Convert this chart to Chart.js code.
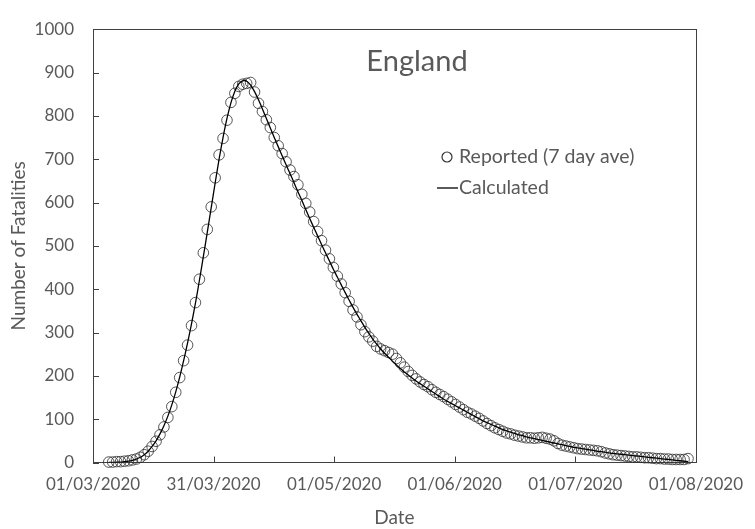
<!DOCTYPE html>
<html><head><meta charset="utf-8">
<script src="https://cdn.jsdelivr.net/npm/chart.js@4.4.1/dist/chart.umd.min.js"></script>
<style>html,body{margin:0;padding:0;background:#fff;}#wrap{width:755px;height:529px;position:relative;}</style>
</head><body><div id="wrap"><canvas id="c" width="755" height="529"></canvas></div>
<script>
// ---- data ----
const axisStart = '2020-03-01';
const axisEnd = '2020-08-01';
const xTickLabels = ['01/03/2020','31/03/2020','01/05/2020','01/06/2020','01/07/2020','01/08/2020'];
const yMin = 0, yMax = 1000, yStep = 100;
const chartTitle = 'England';
const seriesNames = ['Reported (7 day ave)', 'Calculated'];
const xAxisTitle = 'Date';
const yAxisTitle = 'Number of Fatalities';

const reportedStart = '2020-03-05';
const reported = [
  1,1,2,2,3,4,6,8,12,18,26,37,49,64,82,104,129,162,196,235,
  271,316,369,423,484,538,590,657,710,748,790,831,852,868,873,875,
  877,855,829,810,791,773,750,731,713,694,675,660,641,619,
  598,578,556,533,512,490,470,450,430,412,392,372,352,336,318,302,
  290,280,268,262,258,254,250,240,230,220,210,201,193,186,180,175,
  168,162,157,152,146,140,134,128,122,116,112,107,102,96,90,85,
  80,76,72,68,66,63,61,59,57,57,56,57,58,56,54,50,44,40,38,36,
  34,32,31,30,29,28,27,25,22,20,18,17,16,15,14,13,13,12,11,11,
  10,9,9,8,8,7,7,7,7,9
];

const calculatedStart = '2020-03-05';
const calculated = [
  0,0,1,1,2,3,5,8,12,18,26,37,50,66,85,107,133,163,197,235,
  276,320,368,420,475,531,588,645,700,750,794,830,857,874,881,880,
  871,856,837,816,794,772,750,729,708,687,667,646,625,605,
  584,563,543,523,503,484,465,446,428,410,392,375,358,342,327,312,
  298,285,273,262,252,243,234,225,217,209,202,195,188,182,176,170,
  164,158,152,146,141,136,131,126,121,116,111,106,101,96,92,88,
  84,80,76,73,70,67,64,62,59,57,55,53,51,49,47,45,43,41,39,37,
  35,34,32,31,29,28,26,25,24,22,21,20,19,18,17,16,15,14,13,12,
  11,10,9,8,7,6,5,4,3,2
];

// ---- helpers ----
function dayIndex(iso){ return Math.round((Date.parse(iso) - Date.parse(axisStart)) / 86400000); }
function toPoints(start, vals){ const s = dayIndex(start); return vals.map((v, i) => ({x: s + i, y: v})); }

const TEXT = '#595959';
const AXIS = '#404040';
const FONT = 'Lato';

const frameAndTicks = {
  id: 'frameAndTicks',
  beforeDatasetsDraw(chart){
    const {ctx, chartArea: a, scales} = chart;
    ctx.save();
    ctx.strokeStyle = AXIS; ctx.lineWidth = 1;
    ctx.strokeRect(Math.round(a.left)+0.5, Math.round(a.top)+0.5, Math.round(a.right-a.left), Math.round(a.bottom-a.top));
    ctx.beginPath();
    scales.x.ticks.forEach(t => {
      const px = Math.round(scales.x.getPixelForValue(t.value)) + 0.5;
      ctx.moveTo(px, a.bottom); ctx.lineTo(px, a.bottom - 6);
    });
    scales.y.ticks.forEach(t => {
      const py = Math.round(scales.y.getPixelForValue(t.value)) + 0.5;
      ctx.moveTo(a.left, py); ctx.lineTo(a.left + 6, py);
    });
    ctx.stroke();
    ctx.restore();
  },
  afterDraw(chart){
    const {ctx} = chart;
    ctx.save();
    ctx.fillStyle = TEXT;
    ctx.textBaseline = 'middle';
    ctx.textAlign = 'center';
    ctx.font = '29px ' + FONT;
    ctx.fillText(chartTitle, 417, 62);
    // legend
    ctx.font = '19.5px ' + FONT;
    ctx.textAlign = 'left';
    ctx.strokeStyle = '#333'; ctx.lineWidth = 1.2;
    ctx.beginPath(); ctx.arc(447, 157, 5, 0, Math.PI*2); ctx.stroke();
    ctx.fillText(seriesNames[0], 459, 157);
    ctx.strokeStyle = '#000'; ctx.lineWidth = 1.3;
    ctx.beginPath(); ctx.moveTo(437, 188); ctx.lineTo(458, 188); ctx.stroke();
    ctx.fillText(seriesNames[1], 459, 188);
    ctx.restore();
  }
};

const xMax = dayIndex(axisEnd);

new Chart(document.getElementById('c'), {
  type: 'scatter',
  data: {
    datasets: [
      {
        label: seriesNames[0],
        data: toPoints(reportedStart, reported),
        showLine: false,
        pointStyle: 'circle',
        pointRadius: 5.3,
        pointBorderWidth: 1,
        pointBorderColor: 'rgba(45,45,45,0.8)',
        pointBackgroundColor: 'rgba(0,0,0,0)',
        clip: false,
        order: 2
      },
      {
        label: seriesNames[1],
        data: toPoints(calculatedStart, calculated),
        showLine: true,
        pointRadius: 0,
        borderColor: '#000',
        borderWidth: 1.3,
        tension: 0.3,
        fill: false,
        order: 1
      }
    ]
  },
  options: {
    responsive: false,
    animation: false,
    devicePixelRatio: 1,
    layout: {padding: {left: 0, top: 17, right: 47, bottom: 0}},
    plugins: {legend: {display: false}, tooltip: {enabled: false}, title: {display: false}},
    scales: {
      x: {
        type: 'linear', min: 0, max: xMax,
        afterBuildTicks(scale){
          const n = xTickLabels.length;
          scale.ticks = xTickLabels.map((l, i) => ({value: scale.min + i * (scale.max - scale.min) / (n - 1)}));
        },
        afterFit(scale){ scale.height = 66.5; },
        ticks: {
          autoSkip: false, maxRotation: 0, padding: 12, color: TEXT,
          font: {family: FONT, size: 17},
          callback: (v, i) => xTickLabels[i]
        },
        grid: {display: false, drawTicks: false},
        border: {display: false},
        title: {display: true, text: xAxisTitle, color: TEXT, font: {family: FONT, size: 19}, padding: {top: 0, bottom: 0}}
      },
      y: {
        min: yMin, max: yMax,
        afterFit(scale){ scale.width = 93; },
        ticks: {stepSize: yStep, padding: 19, color: TEXT, font: {family: FONT, size: 17},
          callback: (v) => String(v)},
        grid: {display: false, drawTicks: false},
        border: {display: false},
        title: {display: true, text: yAxisTitle, color: TEXT, font: {family: FONT, size: 19}, padding: {top: 7, bottom: 0}}
      }
    }
  },
  plugins: [frameAndTicks]
});
</script>
</body></html>
